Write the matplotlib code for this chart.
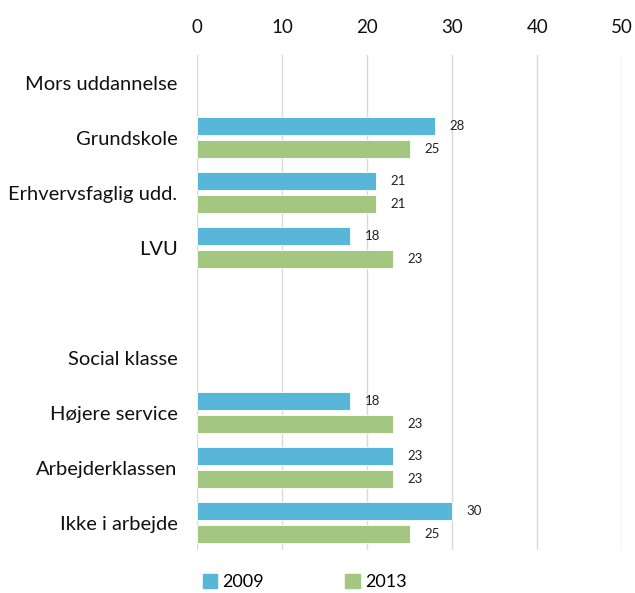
#!/usr/bin/env python3
"""
Horizontal bar chart: share by mother's education and social class, 2009 vs 2013.
"""
import numpy as np
import matplotlib
matplotlib.use('Agg')
import matplotlib.pyplot as plt
from matplotlib.patches import Patch

categories = ['Mors uddannelse', 'Grundskole', 'Erhvervsfaglig udd.', 'LVU', '',
              'Social klasse', 'Højere service', 'Arbejderklassen', 'Ikke i arbejde']
vals_2009 = [None, 28, 21, 18, None, None, 18, 23, 30]
vals_2013 = [None, 25, 21, 23, None, None, 23, 23, 25]
years = ['2009', '2013']
xticks = [0, 10, 20, 30, 40, 50]

COL_2009 = '#58B6D8'
COL_2013 = '#A3C781'


def main():
    plt.rcParams['font.family'] = ['Lato', 'DejaVu Sans']

    fig = plt.figure(figsize=(6.35, 5.93), dpi=100)
    ax = fig.add_axes([0.310, 0.0725, 0.670, 0.8345])

    y = np.arange(len(categories))
    h = 0.33
    off = 0.21
    for series, col, d in ((vals_2009, COL_2009, -off), (vals_2013, COL_2013, off)):
        for yi, v in zip(y, series):
            if v is None:
                continue
            ax.barh(yi + d, v, height=h, color=col, edgecolor='white', linewidth=0.6, zorder=3)
            ax.text(v + 1.7, yi + d, str(v), va='center', ha='left',
                    fontsize=9.5, color='#222222')

    ax.set_xlim(0, 50)
    ax.set_ylim(len(categories) - 0.5, -0.5)
    ax.set_xticks(xticks)
    ax.xaxis.tick_top()
    ax.tick_params(axis='x', length=0, pad=14, labelsize=13.5, colors='#111111')
    ax.set_yticks(y)
    ax.set_yticklabels(categories)
    ax.tick_params(axis='y', length=0, pad=14, labelsize=14.5, colors='#111111')
    ax.grid(axis='x', color='#D9D9D9', linewidth=1, zorder=0)
    for s in ax.spines.values():
        s.set_visible(False)

    handles = [Patch(color=COL_2009), Patch(color=COL_2013)]
    fig.legend(handles, years, loc='center', bbox_to_anchor=(0.48, 0.018),
               ncol=2, frameon=False, fontsize=13, handlelength=0.8,
               handleheight=0.8, handletextpad=0.3, columnspacing=4.5)

    fig.savefig('out.png', dpi=100)


if __name__ == '__main__':
    main()
